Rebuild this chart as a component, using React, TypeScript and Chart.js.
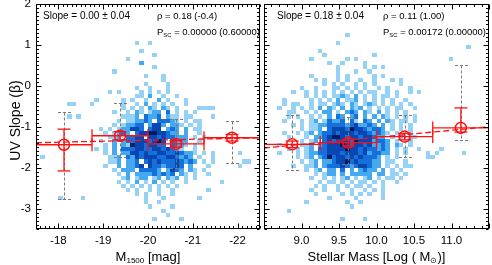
import React, { useEffect, useRef } from 'react';
import { Chart, registerables } from 'chart.js';

Chart.register(...registerables);

const FONT = '"Liberation Sans", Arial, Helvetica, sans-serif';
const RED = '#ff1010';
const GRAY = '#7a7a7a';
const LEVEL_COLORS = ['', '#96d2f6', '#45a9ef', '#1670dc', '#0846b2', '#031a62'];

// ---------- axes ----------
const betaMin = -3.5;
const betaMax = 2;
const betaTicks = [-3, -2, -1, 0, 1, 2];
const magMin = -22.5;
const magMax = -17.5;
const magTicks = [-22, -21, -20, -19, -18];
const massMin = 8.5;
const massMax = 11.5;
const massTicks = [9.0, 9.5, 10.0, 10.5, 11.0];

// ---------- left panel: M1500 ----------
const magBinCenters = [-18.125, -19.375, -20.625, -21.875];
const magBinHalf = 0.625;
const magBeta = [-1.44, -1.22, -1.42, -1.27];
const magErrLo = [0.64, 0.1, 0.08, 0.08];
const magErrHi = [0.38, 0.1, 0.08, 0.08];
const magSpreadLo = [-2.77, -1.73, -2.0, -1.89];
const magSpreadHi = [-0.65, -0.41, -0.8, -0.87];
const magFitX = [-17.5, -22.5];
const magFitY = [-1.39, -1.27];
const magSlopeText = 'Slope = 0.00 ± 0.04';
const magRhoText = 'ρ = 0.18 (-0.4)';
const magPText = ' = 0.00000 (0.60000)';

// 2D histogram: rows of beta (0.1 wide, from +2 downwards), columns of M1500 (0.1 wide, from -17.5)
const magGridX0 = -17.5;
const magGridDX = -0.1;
const gridY0 = 2;
const gridDY = -0.1;
const magGrid = [
  '', '', '', '', '', '', '', '', '',
  '......................1..1',
  '',
  '.......................1',
  '..........................1',
  '....................1',
  '.......................2',
  '..........................1',
  '.................1',
  '........................1...1',
  '............................1',
  '........................1....1',
  '......................1..1...1',
  '................1.1....1.1.1.1',
  '......................11.2..1..1',
  '.............1.....1.1..1..2.1...1',
  '.......11...1......1..1.2.1.1.1..1',
  '...................1.1.1.21.21.1....1111',
  '.................1..1.21.122.3.1.1.1',
  '.......1.1.........1112.3223.211.11....1',
  '..................1.112232.33321.1.11',
  '.................1.12233.2442.221.1.1',
  '..............1.1.122443.344.232.2.11',
  '...............1.1232.3445544322.2..1',
  '................112.3344.443433222.1.1',
  '..............1..2.2334443454.3222..1',
  '...............1.2.2154434433.3221.1',
  '.............1.1.2.33344334434321..1',
  '...............1.2.22443433443343221.1.1.....1',
  '.1..............112.324344433443232.1..1',
  '................112.223.343433343232.1.1......11',
  '...............1..2.2234.43323343.2...1......1',
  '.................1.222.33332.2432.21.1',
  '..................1.2.222232323.21.1..1',
  '...................12.122.12.212.1.1',
  '..................1.1.2.1.2.1.1..1.......1',
  '...................1.1.1.1.1.1.1',
  '....................1.1..1.1..1.......1',
  '......................1.1..1..1',
  '.....1....1.............1...1.......1',
  '........................1..1',
  '.........................1....1',
  '............................1',
  '.............................1',
  '..........................1.....1',
];

// ---------- right panel: stellar mass ----------
const massBinCenters = [8.875, 9.625, 10.375, 11.125];
const massBinHalf = 0.375;
const massBeta = [-1.43, -1.39, -1.24, -1.03];
const massErrLo = [0.08, 0.08, 0.08, 0.1];
const massErrHi = [0.08, 0.08, 0.08, 0.49];
const massSpreadLo = [-2.06, -1.91, -1.73, -1.32];
const massSpreadHi = [-0.71, -0.77, -0.71, 0.52];
const massFitX = [8.5, 11.5];
const massFitY = [-1.52, -1.0];
const massSlopeText = 'Slope = 0.18 ± 0.04';
const massRhoText = 'ρ = 0.11 (1.00)';
const massPText = ' = 0.00172 (0.00000)';

const massGridX0 = 8.5;
const massGridDX = 0.06;
const massGrid = [
  '', '', '', '', '', '', '',
  '..................1',
  '',
  '................1',
  '.............................................1',
  '............1',
  '.............1..........1',
  '..........1.......1.1....................1',
  '..............1..1....1',
  '................1.....1.1.1',
  '................1...1..1',
  '..........1.....1.1.....1.1',
  '...........1.1..1.1..1..1...1.1',
  '.............1.1.1..1.1.1.....1',
  '........1..1...11.1.1.1..1.1....1',
  '......1..1.1.1.1.1.1.1.11..1.1..1.1',
  '.........1.1.1.1121.2.1.1.11.1',
  '....1.....1.1.1.2.112.1.1.1.1..1',
  '....1.11..1.11.121.21.121.1.1.1.1',
  '...1..1.1.1.2.21.2.212.1.1.1.11..1',
  '.....11..1.1.22.1.232.21.2.1.1.1',
  '.....1.1..1.1.2.32.23.2.2.21.1.1.1',
  '....1...1.12.13223.31.32.2.21.11.1',
  '......1.1.112233332342232.2.1.1.1',
  '........1.112.3444354432332.1.1.1',
  '....1..1.12.2334344434432321.1..1',
  '.....1...1.2234554344344322.1.1.11',
  '........1.12.343444354442332.1..1',
  '...1....112.2344454344342232.21.1',
  '.....1.1.12.3344445443433232.1.1..1....1',
  '...1...1.1223344434443423322.1.1....1.1.....1',
  '.......1.12.23534434343332.1.1......11',
  '........1.12.2234453433322.11..1',
  '......1..112.2333432344322.1.1.11',
  '.........1.12.22.3.2.2322.2.1.1',
  '...........1.122.2.22222.22.11.1',
  '..........1..1.1.12.1.12.1.11.1',
  '............1.11.1.1.11.1.1..1',
  '...........1.1..1.1.11.1..1',
  '..........1..1..1..1..1.1.1',
  '...........1.....1.1.1.1..1',
  '..............1.....1.....1',
  '.........1........1..1',
  '...................1',
  '.....1',
  '',
  '.................1....1',
];

type Part = [string, boolean];

type PanelCfg = {
  grid: string[];
  gridX0: number;
  gridDX: number;
  bins: number[];
  binHalf: number;
  beta: number[];
  errLo: number[];
  errHi: number[];
  spreadLo: number[];
  spreadHi: number[];
  xMajor: number;
  xMinor: number;
  xMin: number;
  xMax: number;
  slopeText: string;
  rhoText: string;
  pText: string;
  textX1: number;
  textX2: number;
  title: Part[];
};

function drawParts(ctx: CanvasRenderingContext2D, parts: Part[], x: number, y: number, size: number, align: 'left' | 'center') {
  const subSize = size * 0.62;
  let total = 0;
  const widths = parts.map(([t, sub]) => {
    ctx.font = `${sub ? subSize : size}px ${FONT}`;
    const w = ctx.measureText(t).width;
    total += w;
    return w;
  });
  let cx = align === 'center' ? x - total / 2 : x;
  ctx.textAlign = 'left';
  ctx.textBaseline = 'alphabetic';
  parts.forEach(([t, sub], i) => {
    ctx.font = `${sub ? subSize : size}px ${FONT}`;
    ctx.fillText(t, cx, sub ? y + size * 0.22 : y);
    cx += widths[i];
  });
}

function makePlugin(cfg: PanelCfg) {
  const CAP = 6.5;
  return {
    id: 'panel',
    beforeDatasetsDraw(chart: any) {
      const { ctx, chartArea: a } = chart;
      const xs = chart.scales.x;
      const ys = chart.scales.y;
      ctx.save();
      ctx.beginPath();
      ctx.rect(a.left, a.top, a.right - a.left, a.bottom - a.top);
      ctx.clip();
      cfg.grid.forEach((row, j) => {
        for (let i = 0; i < row.length; i++) {
          const lv = parseInt(row[i], 10);
          if (!lv) continue;
          const xa = Math.round(xs.getPixelForValue(cfg.gridX0 + i * cfg.gridDX));
          const xb = Math.round(xs.getPixelForValue(cfg.gridX0 + (i + 1) * cfg.gridDX));
          const ya = Math.round(ys.getPixelForValue(gridY0 + j * gridDY));
          const yb = Math.round(ys.getPixelForValue(gridY0 + (j + 1) * gridDY));
          ctx.fillStyle = LEVEL_COLORS[lv];
          ctx.fillRect(Math.min(xa, xb), Math.min(ya, yb), Math.abs(xb - xa), Math.abs(yb - ya));
        }
      });
      const seg = (x1: number, y1: number, x2: number, y2: number) => {
        ctx.beginPath();
        ctx.moveTo(x1, y1);
        ctx.lineTo(x2, y2);
        ctx.stroke();
      };
      ctx.strokeStyle = GRAY;
      ctx.lineWidth = 1;
      ctx.setLineDash([3, 2]);
      cfg.bins.forEach((c, i) => {
        const px = Math.round(xs.getPixelForValue(c)) + 0.5;
        const t = Math.round(ys.getPixelForValue(cfg.spreadHi[i])) + 0.5;
        const b = Math.round(ys.getPixelForValue(cfg.spreadLo[i])) + 0.5;
        seg(px, t, px, b);
        seg(px - CAP, t, px + CAP, t);
        seg(px - CAP, b, px + CAP, b);
      });
      ctx.setLineDash([]);
      ctx.strokeStyle = RED;
      ctx.lineWidth = 1.3;
      cfg.bins.forEach((c, i) => {
        const px = xs.getPixelForValue(c);
        const py = ys.getPixelForValue(cfg.beta[i]);
        const xl = xs.getPixelForValue(c - cfg.binHalf);
        const xr = xs.getPixelForValue(c + cfg.binHalf);
        seg(xl, py, xr, py);
        seg(xl, py - CAP, xl, py + CAP);
        seg(xr, py - CAP, xr, py + CAP);
        const yt = ys.getPixelForValue(cfg.beta[i] + cfg.errHi[i]);
        const yb = ys.getPixelForValue(cfg.beta[i] - cfg.errLo[i]);
        seg(px, yt, px, yb);
        seg(px - CAP, yt, px + CAP, yt);
        seg(px - CAP, yb, px + CAP, yb);
      });
      ctx.restore();
    },
    afterDraw(chart: any) {
      const { ctx, chartArea: a } = chart;
      const xs = chart.scales.x;
      const ys = chart.scales.y;
      ctx.save();
      ctx.strokeStyle = '#000';
      ctx.lineWidth = 1;
      const L = Math.round(a.left) + 0.5;
      const R = Math.round(a.right) - 0.5;
      const T = Math.round(a.top) + 0.5;
      const B = Math.round(a.bottom) - 0.5;
      ctx.strokeRect(L, T, R - L, B - T);
      ctx.beginPath();
      const nx = Math.round((cfg.xMax - cfg.xMin) / cfg.xMinor);
      for (let k = 0; k <= nx; k++) {
        const v = cfg.xMin + k * cfg.xMinor;
        const r = v / cfg.xMajor;
        const major = Math.abs(r - Math.round(r)) < 1e-6;
        const len = major ? 5 : 2.5;
        const px = Math.round(xs.getPixelForValue(v)) + 0.5;
        ctx.moveTo(px, B);
        ctx.lineTo(px, B - len);
        ctx.moveTo(px, T);
        ctx.lineTo(px, T + len);
      }
      const ny = Math.round((betaMax - betaMin) / 0.1);
      for (let k = 0; k <= ny; k++) {
        const v = betaMin + k * 0.1;
        const major = Math.abs(v - Math.round(v)) < 1e-6;
        const len = major ? 5 : 2.5;
        const py = Math.round(ys.getPixelForValue(v)) + 0.5;
        ctx.moveTo(L, py);
        ctx.lineTo(L + len, py);
        ctx.moveTo(R, py);
        ctx.lineTo(R - len, py);
      }
      ctx.stroke();
      ctx.fillStyle = '#000';
      drawParts(ctx, [[cfg.slopeText, false]], cfg.textX1, 19, 10, 'left');
      drawParts(ctx, [[cfg.rhoText, false]], cfg.textX2, 19, 9.5, 'left');
      drawParts(ctx, [['P', false], ['SC', true], [cfg.pText, false]], cfg.textX2, 35, 9.5, 'left');
      drawParts(ctx, cfg.title, (a.left + a.right) / 2, 260.5, 13, 'center');
      ctx.restore();
    },
  };
}

const yTitle = {
  id: 'ytitle',
  afterDraw(chart: any) {
    const { ctx, chartArea: a } = chart;
    ctx.save();
    ctx.translate(19.5, (a.top + a.bottom) / 2 + 4);
    ctx.rotate(-Math.PI / 2);
    ctx.fillStyle = '#000';
    ctx.font = `14px ${FONT}`;
    ctx.textAlign = 'center';
    ctx.textBaseline = 'alphabetic';
    ctx.fillText('UV Slope (β)', 0, 0);
    ctx.restore();
  },
};

function makeChart(canvas: HTMLCanvasElement, side: 'left' | 'right') {
  const isLeft = side === 'left';
  const bins = isLeft ? magBinCenters : massBinCenters;
  const beta = isLeft ? magBeta : massBeta;
  const fitX = isLeft ? magFitX : massFitX;
  const fitY = isLeft ? magFitY : massFitY;
  const cfg: PanelCfg = isLeft
    ? {
        grid: magGrid, gridX0: magGridX0, gridDX: magGridDX,
        bins: magBinCenters, binHalf: magBinHalf, beta: magBeta,
        errLo: magErrLo, errHi: magErrHi, spreadLo: magSpreadLo, spreadHi: magSpreadHi,
        xMajor: 1, xMinor: 0.1, xMin: magMin, xMax: magMax,
        slopeText: magSlopeText, rhoText: magRhoText, pText: magPText,
        textX1: 43, textX2: 157,
        title: [['M', false], ['1500', true], [' [mag]', false]],
      }
    : {
        grid: massGrid, gridX0: massGridX0, gridDX: massGridDX,
        bins: massBinCenters, binHalf: massBinHalf, beta: massBeta,
        errLo: massErrLo, errHi: massErrHi, spreadLo: massSpreadLo, spreadHi: massSpreadHi,
        xMajor: 0.5, xMinor: 0.1, xMin: massMin, xMax: massMax,
        slopeText: massSlopeText, rhoText: massRhoText, pText: massPText,
        textX1: 15, textX2: 121,
        title: [['Stellar Mass [Log ( M', false], ['⊙', true], [')]', false]],
      };
  const tickFont = { family: FONT, size: 11.5 };
  const zeroPad = (s: any) => {
    s.paddingLeft = 0;
    s.paddingRight = 0;
    s.paddingTop = 0;
    s.paddingBottom = 0;
  };
  return new Chart(canvas, {
    type: 'scatter',
    data: {
      datasets: [
        {
          data: fitX.map((x, i) => ({ x, y: fitY[i] })),
          showLine: true,
          borderColor: RED,
          borderWidth: 1.3,
          borderDash: [6, 3],
          pointRadius: 0,
          fill: false,
        } as any,
        {
          data: bins.map((x, i) => ({ x, y: beta[i] })),
          pointStyle: 'circle',
          pointRadius: 5.5,
          borderColor: RED,
          borderWidth: 1.5,
          backgroundColor: 'rgba(0,0,0,0)',
        } as any,
      ],
    },
    options: {
      responsive: false,
      animation: false,
      events: [],
      layout: {
        autoPadding: false,
        padding: isLeft ? { left: 0, right: 2, top: 4, bottom: 0 } : { left: 2, right: 3, top: 4, bottom: 0 },
      },
      plugins: { legend: { display: false }, tooltip: { enabled: false } },
      scales: {
        x: {
          type: 'linear',
          min: isLeft ? magMin : massMin,
          max: isLeft ? magMax : massMax,
          reverse: isLeft,
          grid: { display: false, drawTicks: false },
          border: { display: false },
          ticks: {
            font: tickFont,
            color: '#000',
            padding: 5,
            maxRotation: 0,
            minRotation: 0,
            autoSkip: false,
            callback: (v: any) => (isLeft ? String(v) : Number(v).toFixed(1)),
          },
          afterBuildTicks: (s: any) => {
            s.ticks = (isLeft ? magTicks : massTicks).map((value) => ({ value }));
          },
          afterFit: (s: any) => {
            s.height = 36;
            zeroPad(s);
          },
        },
        y: {
          type: 'linear',
          min: betaMin,
          max: betaMax,
          display: isLeft,
          grid: { display: false, drawTicks: false },
          border: { display: false },
          ticks: { font: tickFont, color: '#000', padding: 5, callback: (v: any) => String(v) },
          afterBuildTicks: (s: any) => {
            s.ticks = betaTicks.map((value) => ({ value }));
          },
          afterFit: (s: any) => {
            s.width = isLeft ? 36 : 0;
            zeroPad(s);
          },
        },
      },
    } as any,
    plugins: isLeft ? [makePlugin(cfg), yTitle] : [makePlugin(cfg)],
  });
}

export default function App() {
  const leftRef = useRef<HTMLCanvasElement>(null);
  const rightRef = useRef<HTMLCanvasElement>(null);
  useEffect(() => {
    const c1 = makeChart(leftRef.current!, 'left');
    const c2 = makeChart(rightRef.current!, 'right');
    return () => {
      c1.destroy();
      c2.destroy();
    };
  }, []);
  return (
    <div style={{ position: 'absolute', left: 0, top: 0, width: 492, height: 265, background: '#fff' }}>
      <canvas ref={leftRef} width={262} height={265} style={{ position: 'absolute', left: 0, top: 0 }} />
      <canvas ref={rightRef} width={230} height={265} style={{ position: 'absolute', left: 262, top: 0 }} />
    </div>
  );
}
